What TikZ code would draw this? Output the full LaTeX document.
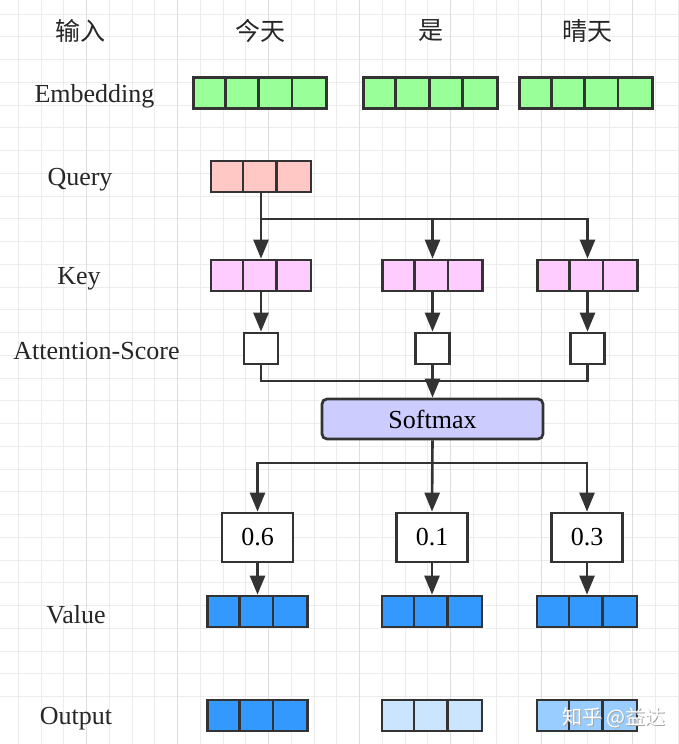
\documentclass[tikz,border=0pt]{standalone}
\usepackage{fontspec}
\setmainfont{Liberation Serif}
\newfontfamily\cjk{Noto Sans CJK SC}
\usetikzlibrary{arrows.meta}

\definecolor{linegray}{HTML}{333333}
\definecolor{textgray}{HTML}{262626}
\definecolor{gridminor}{HTML}{ECECEC}
\definecolor{gridmajor}{HTML}{DEDEDE}
\definecolor{embgreen}{HTML}{99FF99}
\definecolor{querypink}{HTML}{FFC8C4}
\definecolor{keypink}{HTML}{FFCCFF}
\definecolor{valueblue}{HTML}{3399FF}
\definecolor{outpale}{HTML}{CCE5FF}
\definecolor{outmid}{HTML}{99CCFF}
\definecolor{softviolet}{HTML}{CCCCFF}

\tikzset{
  wire/.style      = {draw=linegray, line width=2.6pt},
  flow/.style      = {wire, -{Triangle[length=19pt, width=15pt]}},
  cellbox/.style   = {draw=linegray, line width=2.7pt, minimum height=31pt, inner sep=0pt},
  scorebox/.style  = {cellbox, fill=white, minimum width=34pt},
  probbox/.style   = {cellbox, fill=white, minimum width=71pt, minimum height=49pt, font=\fontsize{26}{30}\selectfont},
  softbox/.style   = {cellbox, fill=softviolet, rounded corners=5pt, minimum width=221pt, minimum height=40pt, font=\fontsize{26}{30}\selectfont},
  rowlabel/.style  = {text=textgray, font=\fontsize{26}{30}\selectfont, yshift=-3pt},
  wordlabel/.style = {text=textgray, font=\cjk\fontsize{25}{30}\selectfont},
}

% a vector of #4 cells, named #1, centred at (#2,#3), filled with #5
\newcommand{\vecrow}[5]{%
  \node[cellbox, fill=#5, minimum width={(#4*\cellw)*1pt}] (#1) at (#2,#3) {};
  \pgfmathtruncatemacro{\nlast}{#4-1}
  \foreach \k in {1,...,\nlast}
    \draw[draw=linegray, line width=2.7pt] ([xshift=\k*\cellw*1pt]#1.north west) -- ([xshift=\k*\cellw*1pt]#1.south west);
}

\begin{document}
\begin{tikzpicture}[x=1pt, y=-1pt]
\def \cellw   {33.4}

\def \xa      {261};
\def \xb      {432.5};
\def \xc      {587.5};
\def \va      {257.5};
\def \vb      {432};
\def \vc      {587};

\def \yhead   {31};
\def \yemb    {93};
\def \yq      {176.5};
\def \yk      {275.5};
\def \ys      {348.5};
\def \ysm     {419};
\def \yp      {537.5};
\def \yv      {611.5};
\def \yout    {715.5};

\useasboundingbox (0,0) rectangle (678,744);
\fill[white] (0,0) rectangle (678,744);

% grid
\foreach \g in {0,...,30} {
  \draw[gridminor, line width=0.8pt] (\g*22.75-4.45, 0) -- ++(0,744);
  \draw[gridminor, line width=0.8pt] (0, \g*22.75+13.95) -- ++(678,0);
}
\foreach \g in {0,...,8} {
  \draw[gridmajor, line width=1pt] (\g*91-4.45, 0) -- ++(0,744);
}

% row labels
\node[wordlabel] (lin)    at (80, \yhead)   {输入};
\node[rowlabel]  (lemb)   at (94.5, \yemb)  {Embedding};
\node[rowlabel]  (lq)     at (80, \yq)      {Query};
\node[rowlabel]  (lk)     at (79, \yk)      {Key};
\node[rowlabel]  (ls)     at (96.5, \ys)    {Attention-Score};
\node[rowlabel]  (lv)     at (76, \yv)      {Value};
\node[rowlabel]  (lout)   at (76, \yout)    {Output};

% words
\node[wordlabel] (wa) at (260, \yhead)   {今天};
\node[wordlabel] (wb) at (431, \yhead)   {是};
\node[wordlabel] (wc) at (587, \yhead)   {晴天};

\vecrow{ea}{260}{\yemb}{4}{embgreen}
\vecrow{eb}{430.5}{\yemb}{4}{embgreen}
\vecrow{ec}{586}{\yemb}{4}{embgreen}

\vecrow{q}{\xa}{\yq}{3}{querypink}

\vecrow{ka}{\xa}{\yk}{3}{keypink}
\vecrow{kb}{\xb}{\yk}{3}{keypink}
\vecrow{kc}{\xc}{\yk}{3}{keypink}

\node[scorebox] (sa) at (\xa, \ys) {};
\node[scorebox] (sb) at (\xb, \ys) {};
\node[scorebox] (sc) at (\xc, \ys) {};

\node[softbox] (sm) at (\xb, \ysm) {Softmax};

\node[probbox] (pa) at (\va, \yp) {0.6};
\node[probbox] (pb) at (\vb, \yp) {0.1};
\node[probbox] (pc) at (\vc, \yp) {0.3};

\vecrow{va}{\va}{\yv}{3}{valueblue}
\vecrow{vb}{\vb}{\yv}{3}{valueblue}
\vecrow{vc}{\vc}{\yv}{3}{valueblue}

\vecrow{oa}{\va}{\yout}{3}{valueblue}
\vecrow{ob}{\vb}{\yout}{3}{outpale}
\vecrow{oc}{\vc}{\yout}{3}{outmid}

% query to keys
\coordinate (qsplit) at (\xa, 219);
\draw[flow] (q.south) -- (ka.north);
\draw[flow] (qsplit) -| (kb.north);
\draw[flow] (qsplit) -| (kc.north);

% keys to scores
\draw[flow] (ka.south) -- (sa.north);
\draw[flow] (kb.south) -- (sb.north);
\draw[flow] (kc.south) -- (sc.north);

% scores to softmax
\coordinate (smerge) at (\xb, 381);
\draw[wire] (sa.south) |- (smerge);
\draw[wire] (sc.south) |- (smerge);
\draw[flow] (sb.south) -- (sm.north);

% softmax to weights
\coordinate (psplit) at (\vb, 463);
\draw[flow] (sm.south) -- (pb.north);
\draw[flow] (psplit) -| (pa.north);
\draw[flow] (psplit) -| (pc.north);

% weights to values
\draw[flow] (pa.south) -- (va.north);
\draw[flow] (pb.south) -- (vb.north);
\draw[flow] (pc.south) -- (vc.north);

\node[text=gray!70, font=\cjk\fontsize{20}{24}\selectfont] (wmshade) at (615, 719) {知乎 @益达};
\node[text=white, font=\cjk\fontsize{20}{24}\selectfont] (wm) at (614, 718) {知乎 @益达};

\end{tikzpicture}
\end{document}
